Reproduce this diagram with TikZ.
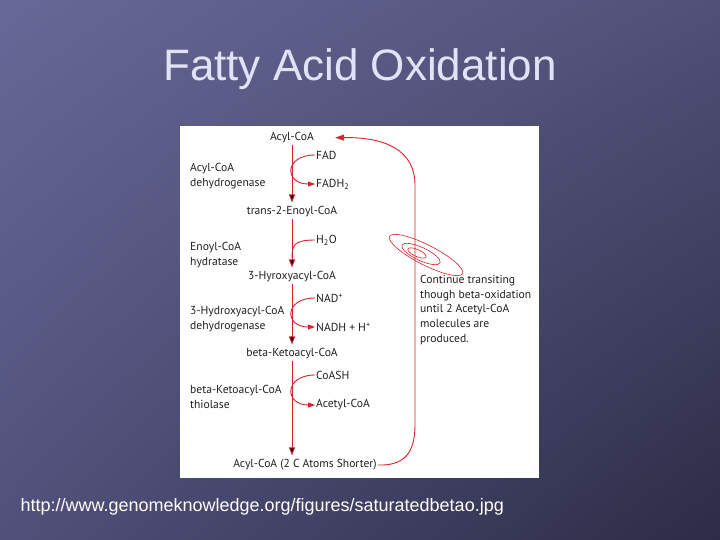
\documentclass[tikz,border=0pt]{standalone}
\usepackage{fontspec}
\setmainfont{Liberation Sans}
\newfontfamily\panelfont{PT Sans}
\usetikzlibrary{arrows.meta,
                shadings,
                positioning}

\definecolor{bgUL}{RGB}{104,104,152}
\definecolor{bgUR}{RGB}{80,80,120}
\definecolor{bgLL}{RGB}{80,80,122}
\definecolor{bgLR}{RGB}{44,44,70}
\definecolor{titlecol}{RGB}{226,226,246}
\definecolor{pathred}{RGB}{212,36,44}
\definecolor{inkgray}{RGB}{35,31,32}

\begin{document}
\begin{tikzpicture}[
     x=1pt, y=-1pt,
      met/.style = {font=\panelfont\fontsize{11.6}{14.6}\selectfont, text=inkgray, inner sep=1pt},
   cofac/.style = {met, anchor=west},
  enzyme/.style = {met, anchor=west, align=left},
 stepline/.style = {draw=pathred, line width=0.9pt, -{Triangle[length=8pt,width=6pt]}},
    side/.style = {draw=pathred, line width=0.9pt, -{Triangle[length=7pt,width=5pt]}},
    ]
  \useasboundingbox (0,0) rectangle (720,540);
  \shade[upper left=bgUL, upper right=bgUR, lower left=bgLL, lower right=bgLR] (0,0) rectangle (720,540);
  %---
  \node [font=\fontsize{44}{50}\selectfont, text=titlecol] (title) at (360,69) {Fatty Acid Oxidation};
  \fill [white] (180,126) rectangle (539,478);
  % metabolites
  \node [met] (acyl)    at (292,138) {Acyl-CoA};
  \node [met] (enoyl)   at (292,212) {trans-2-Enoyl-CoA};
  \node [met] (hydroxy) at (292,277) {3-Hyroxyacyl-CoA};
  \node [met] (keto)    at (292,354) {beta-Ketoacyl-CoA};
  \node [met] (shorter) at (305,465) {Acyl-CoA (2 C Atoms Shorter)};
  % cofactors
  \node [cofac] (fad)    at (315,155) {FAD};
  \node [cofac] (fadh)   at (315,184) {FADH\textsubscript{2}};
  \node [cofac] (water)  at (315,240) {H\textsubscript{2}O};
  \node [cofac] (nad)    at (315,298) {NAD\textsuperscript{+}};
  \node [cofac] (nadh)   at (315,327) {NADH + H\textsuperscript{+}};
  \node [cofac] (coash)  at (315,375) {CoASH};
  \node [cofac] (acetyl) at (315,405) {Acetyl-CoA};
  % enzymes
  \node [enzyme] (acd)       at (189,176) {Acyl-CoA\\dehydrogenase};
  \node [enzyme] (hydratase) at (189,255) {Enoyl-CoA\\hydratase};
  \node [enzyme] (hadh)      at (189,319) {3-Hydroxyacyl-CoA\\dehydrogenase};
  \node [enzyme] (thiolase)  at (189,397) {beta-Ketoacyl-CoA\\thiolase};
  %
  \node [enzyme] (note) at (419,310) {Continue transiting\\though beta-oxidation\\until 2 Acetyl-CoA\\molecules are\\produced.};
  \coordinate (wjoin) at (292,258);
  %---
  \draw [stepline, shorten >=3pt]
    (acyl) edge (enoyl)
    (enoyl) edge (hydroxy)
    (hydroxy) edge (keto)
    (keto) edge (keto |- shorter.north);
  \draw [side] (fad.west) .. controls +(-31,0) and +(-31,0) .. (fadh.west);
  \draw [draw=pathred, line width=0.9pt] (water.west) .. controls +(-22,0) and (292,246) .. (wjoin);
  \draw [side] (nad.west) .. controls +(-31,0) and +(-31,0) .. (nadh.west);
  \draw [side] (coash.west) .. controls +(-31,0) and +(-31,0) .. (acetyl.west);
  % return loop
  \draw [side, -{Triangle[length=9pt,width=6pt]}, shorten >=20pt]
    (shorter.east) .. controls (405,466) and (415,452) .. (415,425)
    -- (415,185) .. controls (415,150) and (385,137) .. (acyl.east);
  % spiral
  \draw [pathred, line width=0.6pt, shift={(417,253)}, rotate=-24] (0,0) ellipse (10pt and 3.5pt);
  \draw [pathred, line width=0.6pt, shift={(421,254)}, rotate=-25] (0,0) ellipse (21pt and 6.5pt);
  \draw [pathred, line width=0.6pt, shift={(426,255)}, rotate=-27] (0,0) ellipse (41pt and 10pt);
  %---
  \node [anchor=west, font=\fontsize{18}{20}\selectfont, text=white] (url) at (17,507) {http://www.genomeknowledge.org/figures/saturatedbetao.jpg};
\end{tikzpicture}
\end{document}
